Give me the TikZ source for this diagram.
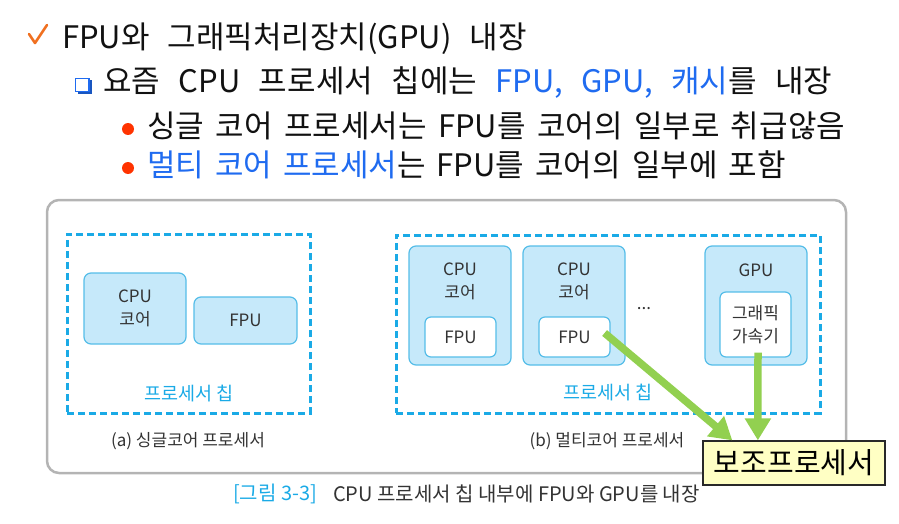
\documentclass[tikz,border=0pt]{standalone}
\usepackage{fontspec}
\setmainfont{Noto Sans CJK KR}
\usetikzlibrary{arrows.meta,calc}
\definecolor{ttext}{HTML}{111111}
\definecolor{dtext}{HTML}{333333}
\definecolor{hblue}{HTML}{1F6BF0}
\definecolor{bred}{HTML}{FF3300}
\definecolor{chk}{HTML}{F07020}
\definecolor{cyanl}{HTML}{1AAAE6}
\definecolor{boxfill}{HTML}{C6E9FA}
\definecolor{boxline}{HTML}{55BDE8}
\definecolor{outerg}{HTML}{B4B4B4}
\definecolor{arrg}{HTML}{92D050}
\definecolor{auxfill}{HTML}{FFFFC4}
\tikzset{
  title/.style={anchor=base west,inner sep=0pt,text=ttext,font=\fontsize{31}{36}\selectfont},
  lbl/.style={text=dtext,font=\fontsize{17}{23}\selectfont,align=center,inner sep=0pt},
  bluebox/.style={draw=boxline,fill=boxfill,line width=1.2pt,rounded corners=7pt,inner sep=0pt},
  whitebox/.style={draw=boxline,fill=white,line width=1.2pt,rounded corners=6pt,inner sep=0pt},
  dashbox/.style={draw=cyanl,line width=3pt,dash pattern=on 7pt off 4pt,inner sep=0pt},
  chiplbl/.style={text=cyanl,font=\fontsize{18.5}{22}\selectfont,inner sep=0pt},
  caplbl/.style={inner sep=0pt,font=\fontsize{20}{24}\selectfont},
  garrow/.style={draw=arrg,line width=7.5pt,-{Triangle[width=25pt,length=22pt]}},
}
\begin{document}
\begin{tikzpicture}[x=1pt,y=-1pt]
\useasboundingbox (0,0) rectangle (899,524);
% header
\draw[chk,line width=2.6pt,line cap=round,line join=round] (29,34) -- (35,43) -- (47,25);
\node[title] (l1) at (62,49) {\spaceskip=18pt FPU와 그래픽처리장치(GPU) 내장};
\fill[hblue!80!black] (77.5,80.5) rectangle (92,94);
\draw[hblue,fill=white,line width=1.4pt] (75.5,78.5) rectangle (89,91.5);
\node[title] (l2) at (103,93) {\spaceskip=18.5pt 요즘 CPU 프로세서 칩에는 \textcolor{hblue}{FPU, GPU, 캐시}를 내장};
\fill[bred] (128,129) circle (6pt);
\node[title] (l3) at (147,137) {\spaceskip=11.4pt 싱글 코어 프로세서는 FPU를 코어의 일부로 취급않음};
\fill[bred] (128,168) circle (6pt);
\node[title] (l4) at (147,176) {\spaceskip=11pt \textcolor{hblue}{멀티 코어 프로세서}는 FPU를 코어의 일부에 포함};
% outer frame
\node[draw=outerg,line width=2.5pt,rounded corners=12pt,minimum width=799pt,minimum height=273pt,inner sep=0pt] (outer) at (446.5,336.5) {};
% left
\node[dashbox,minimum width=243pt,minimum height=179pt] (dashL) at (188.5,323.5) {};
\node[bluebox,minimum width=102pt,minimum height=71pt] (cpuL) at (135,308.5) {};
\node[lbl] (cpuLt) at (cpuL) {CPU\\코어};
\node[bluebox,minimum width=103pt,minimum height=47pt] (fpuL) at (245.5,320.5) {};
\node[lbl] (fpuLt) at (fpuL) {FPU};
\node[chiplbl] (chipL) at (189,394) {프로세서 칩};
\node[lbl] (capA) at (188,441) {(a) 싱글코어 프로세서};
% right
\node[dashbox,minimum width=424pt,minimum height=178pt] (dashR) at (608,324) {};
\node[bluebox,minimum width=102pt,minimum height=119pt] (core1) at (460,305.5) {};
\node[lbl] (core1t) at (460,281.5) {CPU\\코어};
\node[whitebox,minimum width=71pt,minimum height=40pt] (fpu1) at (460.5,337) {};
\node[lbl] (fpu1t) at (fpu1) {FPU};
\node[bluebox,minimum width=102pt,minimum height=119pt] (core2) at (574,305.5) {};
\node[lbl] (core2t) at (574,281.5) {CPU\\코어};
\node[whitebox,minimum width=71pt,minimum height=40pt] (fpu2) at (574.5,337) {};
\node[lbl] (fpu2t) at (fpu2) {FPU};
\node[lbl] (dots) at (644,309) {...};
\node[bluebox,minimum width=102pt,minimum height=119pt] (gpu) at (756,305.5) {};
\node[lbl] (gput) at (756,270) {GPU};
\node[whitebox,minimum width=71pt,minimum height=65pt] (gpuin) at (755.5,324.5) {};
\node[lbl] (gpuint) at (gpuin) {그래픽\\가속기};
\node[chiplbl] (chipR) at (608,393) {프로세서 칩};
\node[lbl] (capB) at (607,441) {(b) 멀티코어 프로세서};
% aux
\node[draw=dtext!80!black,fill=auxfill,line width=1.3pt,minimum width=182pt,minimum height=44pt,inner sep=0pt,font=\fontsize{29}{34}\selectfont,text=black] (aux) at (794,463) {보조프로세서};
\coordinate (a1s) at ($(fpu2.east)+(-6,-4)$);
\coordinate (a1e) at ($(aux.north west)+(30,0)$);
\coordinate (a2s) at ($(gpuin.south)+(2.5,-5)$);
\coordinate (a2e) at ($(aux.north west)+(55.5,0)$);
\draw[garrow] (a1s) -- (a1e);
\draw[garrow] (a2s) -- (a2e);
% caption
\node[caplbl,text=cyanl] (capfig) at (275,494) {[그림 3-3]};
\node[caplbl,anchor=west,text=dtext] (captxt) at (333,494) {CPU 프로세서 칩 내부에 FPU와 GPU를 내장};
\end{tikzpicture}
\end{document}
